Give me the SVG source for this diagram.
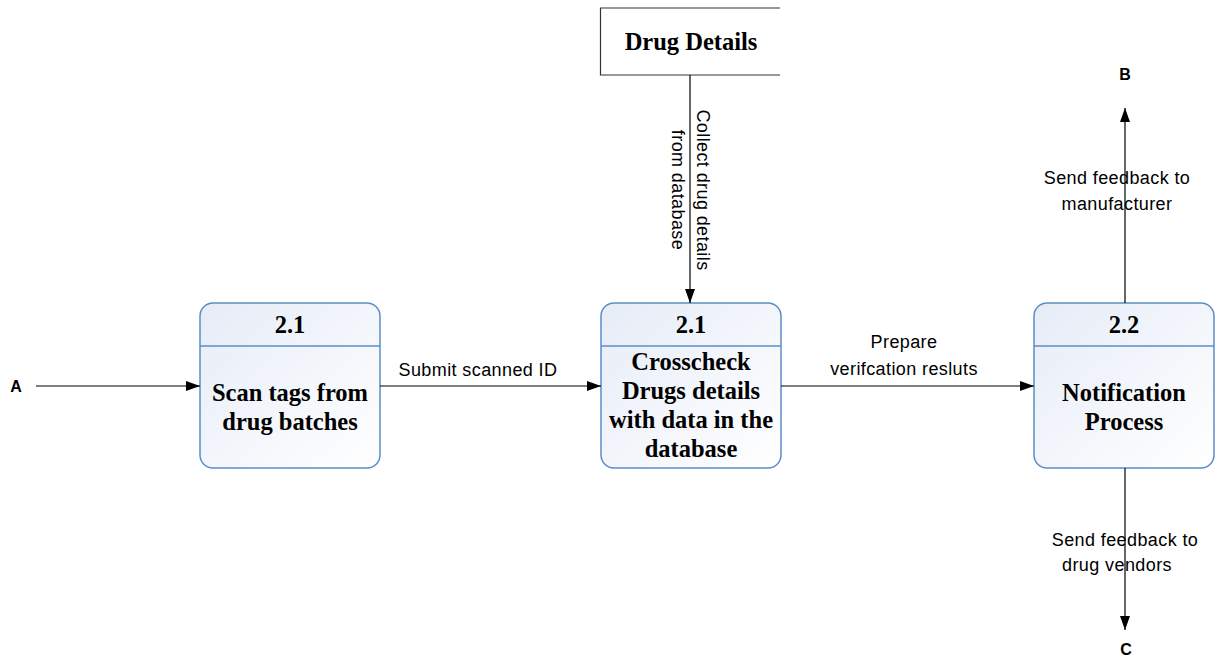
<svg xmlns="http://www.w3.org/2000/svg" width="1218" height="659" viewBox="0 0 1218 659">
<style>
.proc{fill:url(#g);stroke:#5b8ec8;stroke-width:1.5}
.div{stroke:#5b8ec8;stroke-width:1.5}
.t{font-family:"Liberation Serif",serif;font-weight:bold;font-size:24.5px;text-anchor:middle;fill:#000}
.l{font-family:"Liberation Sans",sans-serif;font-size:18px;letter-spacing:0.4px;text-anchor:middle;fill:#000}
.e{font-family:"Liberation Sans",sans-serif;font-weight:bold;font-size:16px;text-anchor:middle;fill:#000}
.c{stroke:#000;stroke-width:1.2;fill:none;marker-end:url(#ah)}
</style>
<defs>
<linearGradient id="g" x1="0" y1="0" x2="1" y2="1">
<stop offset="0" stop-color="#e6ecf7"/>
<stop offset="1" stop-color="#ffffff"/>
</linearGradient>
<marker id="ah" markerWidth="14" markerHeight="10" refX="14" refY="5" orient="auto" markerUnits="userSpaceOnUse">
<path d="M0,0 L14,5 L0,10 Z" fill="#000"/>
</marker>
</defs>
<rect width="1218" height="659" fill="#fff"/>
<g id="store-drug-details">
<path d="M780,8 H600.5 V75 H780" fill="none" stroke="#333" stroke-width="1.2"/>
<text class="t" x="691" y="50">Drug Details</text>
</g>
<g id="p1">
<rect class="proc" x="200" y="303" width="180" height="165" rx="13"/>
<line class="div" x1="200" y1="346" x2="380" y2="346"/>
<text class="t" x="290" y="333">2.1</text>
<text class="t" x="290" y="401">Scan tags from</text>
<text class="t" x="290" y="430">drug batches</text>
</g>
<g id="p2">
<rect class="proc" x="601" y="303" width="180" height="165" rx="13"/>
<line class="div" x1="601" y1="346" x2="781" y2="346"/>
<text class="t" x="691" y="333">2.1</text>
<text class="t" x="691" y="370">Crosscheck</text>
<text class="t" x="691" y="399">Drugs details</text>
<text class="t" x="691" y="428">with data in the</text>
<text class="t" x="691" y="457">database</text>
</g>
<g id="p3">
<rect class="proc" x="1034" y="303" width="180" height="165" rx="13"/>
<line class="div" x1="1034" y1="346" x2="1214" y2="346"/>
<text class="t" x="1124" y="333">2.2</text>
<text class="t" x="1124" y="401">Notification</text>
<text class="t" x="1124" y="430">Process</text>
</g>
<g id="ext">
<text class="e" x="16" y="392">A</text>
<text class="e" x="1125" y="80">B</text>
<text class="e" x="1126" y="655">C</text>
</g>
<g id="connectors">
<line class="c" x1="36" y1="386" x2="200" y2="386"/>
<line class="c" x1="380" y1="386" x2="601" y2="386"/>
<line class="c" x1="781" y1="386" x2="1034" y2="386"/>
<line class="c" x1="690" y1="75" x2="690" y2="303"/>
<line class="c" x1="1125" y1="303" x2="1125" y2="108"/>
<line class="c" x1="1125" y1="468" x2="1125" y2="630"/>
<text class="l" x="478" y="376">Submit scanned ID</text>
<text class="l" x="904" y="348">Prepare</text>
<text class="l" x="904" y="375">verifcation resluts</text>
<text class="l" x="1117" y="184">Send feedback to</text>
<text class="l" x="1117" y="210">manufacturer</text>
<text class="l" x="1125" y="546">Send feedback to</text>
<text class="l" x="1117" y="571">drug vendors</text>
<text class="l" transform="translate(697,190) rotate(90)" x="0" y="0">Collect drug details</text>
<text class="l" transform="translate(672,190) rotate(90)" x="0" y="0">from database</text>
</g>
</svg>
